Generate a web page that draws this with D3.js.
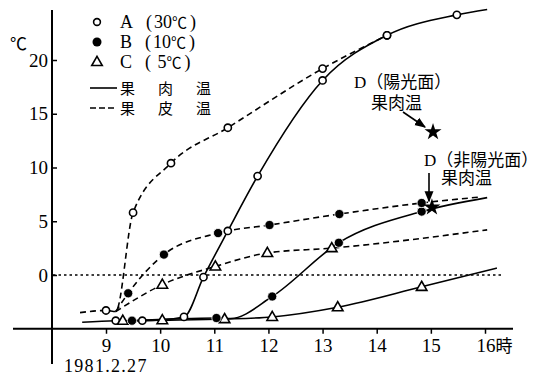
<!DOCTYPE html>
<html>
<head>
<meta charset="utf-8">
<script src="https://cdn.jsdelivr.net/npm/d3@7"></script>
<style>
  body { margin: 0; background: #fff; }
  text { fill: #000; }
</style>
</head>
<body>
<svg width="544" height="376"></svg>
<script>
// [hour, temp (℃), marker? 1/0]
var aFlesh = [[8.56,-4.4,0],[9.18,-4.25,1],[9.67,-4.25,1],[10.44,-3.9,1],[10.8,-0.2,1],[11.25,4.1,1],[11.8,9.2,1],[13.0,18.1,1],[14.19,22.3,1],[15.48,24.2,1],[16.04,24.7,0]];
var aPeel  = [[8.52,-3.5,0],[9.0,-3.3,1],[9.18,-3.4,0],[9.5,5.8,1],[10.2,10.4,1],[11.25,13.7,1],[13.0,19.2,1],[14.19,22.3,1]];
var bFlesh = [[9.48,-4.25,1],[11.04,-4.0,1],[11.3,-4.05,0],[12.07,-2.0,1],[13.3,3.0,1],[14.83,5.9,1],[16.04,7.2,0]];
var bPeel  = [[9.18,-3.4,0],[9.41,-1.7,1],[10.07,1.9,1],[11.07,3.9,1],[12.02,4.65,1],[13.31,5.67,1],[14.83,6.7,1],[15.9,7.25,0]];
var cFlesh = [[9.31,-4.25,1],[10.04,-4.2,1],[11.19,-4.1,1],[12.07,-3.9,1],[13.28,-3.0,1],[14.83,-1.1,1],[16.22,0.65,0]];
var cPeel  = [[9.18,-3.4,0],[10.04,-0.9,1],[11.02,0.8,1],[11.98,2.05,1],[13.17,2.5,1],[16.04,4.2,0]];
var dSun = [15.04, 13.3];
var dShade = [15.02, 6.3];

var hours = [9, 10, 11, 12, 13, 14, 15, 16];
var temps = [0, 5, 10, 15, 20];
var legendSeries = ["A", "B", "C"];
var legendTemps = ["30", "10", " 5"];

var serif = "'Liberation Serif', 'Noto Sans CJK JP', serif";
var cjk = "'Liberation Serif', 'Noto Sans CJK JP', sans-serif";
var jp = "'Noto Sans CJK JP', sans-serif";

var svg = d3.select("svg");

var x = d3.scaleLinear().domain([9, 16]).range([106, 485]);
var y = d3.scaleLinear().domain([0, 20]).range([275, 60]);

// axes
var xAxisY = y(-5);
svg.append("line").attr("x1", 13).attr("x2", 513)
   .attr("y1", xAxisY).attr("y2", xAxisY)
   .attr("stroke", "#000").attr("stroke-width", 2);
svg.append("line").attr("x1", 52).attr("x2", 52)
   .attr("y1", 10).attr("y2", 364)
   .attr("stroke", "#000").attr("stroke-width", 2);

var xAxis = svg.append("g")
   .attr("transform", "translate(0," + xAxisY + ")")
   .call(d3.axisBottom(x).tickValues(hours).tickSize(5).tickPadding(5).tickFormat(d3.format("d")));
xAxis.select(".domain").remove();
xAxis.selectAll("line").attr("stroke-width", 1.5);
xAxis.selectAll("text").attr("font-family", serif).attr("font-size", 19).attr("fill", "#000");
xAxis.selectAll(".tick").filter(function(d) { return d == 16; }).select("text")
   .attr("text-anchor", "start").attr("x", -9)
   .append("tspan").attr("font-family", jp).attr("font-size", 17).text("時");

var yAxis = svg.append("g")
   .attr("transform", "translate(52,0)")
   .call(d3.axisLeft(y).tickValues(temps).tickSize(-5).tickPadding(4));
yAxis.select(".domain").remove();
yAxis.selectAll("line").attr("stroke-width", 1.5);
yAxis.selectAll("text").attr("font-family", serif).attr("font-size", 19).attr("fill", "#000");

svg.append("text").attr("x", 10).attr("y", 50)
   .attr("font-family", jp).attr("font-size", 17).text("℃");
svg.append("text").attr("x", 64).attr("y", 372)
   .attr("font-family", serif).attr("font-size", 18).attr("letter-spacing", 1.3).text("1981.2.27");

// zero line
svg.append("line").attr("x1", 53).attr("x2", 503)
   .attr("y1", y(0)).attr("y2", y(0))
   .attr("stroke", "#000").attr("stroke-width", 1.6)
   .attr("stroke-dasharray", "2.5,3");

var line = d3.line()
   .x(function(d) { return x(d[0]); })
   .y(function(d) { return y(d[1]); })
   .curve(d3.curveMonotoneX);

function drawLine(data, dashed) {
  svg.append("path").datum(data)
     .attr("d", line)
     .attr("fill", "none")
     .attr("stroke", "#000")
     .attr("stroke-width", 1.6)
     .attr("stroke-dasharray", dashed ? "6,4" : null);
}

drawLine(aFlesh, false);
drawLine(bFlesh, false);
drawLine(cFlesh, false);
drawLine(aPeel, true);
drawLine(bPeel, true);
drawLine(cPeel, true);

var tri = d3.symbol().type(d3.symbolTriangle).size(48);

function drawMarkers(data, kind) {
  var pts = data.filter(function(d) { return d[2]; });
  var g = svg.append("g");
  if (kind == "A") {
    g.selectAll("circle").data(pts).enter().append("circle")
     .attr("cx", function(d) { return x(d[0]); })
     .attr("cy", function(d) { return y(d[1]); })
     .attr("r", 3.6).attr("fill", "#fff").attr("stroke", "#000").attr("stroke-width", 1.6);
  } else if (kind == "B") {
    g.selectAll("circle").data(pts).enter().append("circle")
     .attr("cx", function(d) { return x(d[0]); })
     .attr("cy", function(d) { return y(d[1]); })
     .attr("r", 4.6).attr("fill", "#000").attr("stroke", "#fff").attr("stroke-width", 0.8);
  } else {
    g.selectAll("path").data(pts).enter().append("path")
     .attr("d", tri)
     .attr("transform", function(d) { return "translate(" + x(d[0]) + "," + (y(d[1]) + 0.5) + ")"; })
     .attr("fill", "#fff").attr("stroke", "#000").attr("stroke-width", 1.6);
  }
}

drawMarkers(aFlesh, "A");
drawMarkers(aPeel, "A");
drawMarkers(cFlesh, "C");
drawMarkers(cPeel, "C");
drawMarkers(bFlesh, "B");
drawMarkers(bPeel, "B");

// D stars
var star = d3.symbol().type(d3.symbolStar).size(90);
[dSun, dShade].forEach(function(d) {
  svg.append("path").attr("d", star)
     .attr("transform", "translate(" + x(d[0]) + "," + y(d[1]) + ")")
     .attr("fill", "#000");
});

// arrows
svg.append("defs").append("marker")
   .attr("id", "ah").attr("viewBox", "0 0 10 10")
   .attr("refX", 9).attr("refY", 5)
   .attr("markerWidth", 7).attr("markerHeight", 7)
   .attr("orient", "auto")
   .append("path").attr("d", "M0,1L10,5L0,9Z").attr("fill", "#000");

svg.append("line").attr("x1", 403).attr("y1", 112).attr("x2", x(dSun[0]) - 8).attr("y2", y(dSun[1]) - 5)
   .attr("stroke", "#000").attr("stroke-width", 1.6).attr("marker-end", "url(#ah)");
svg.append("line").attr("x1", 429).attr("y1", 173).attr("x2", 429).attr("y2", y(dShade[1]) - 6)
   .attr("stroke", "#000").attr("stroke-width", 1.6).attr("marker-end", "url(#ah)");

function note(tx, ty, s) {
  svg.append("text").attr("x", tx).attr("y", ty)
     .attr("font-family", cjk).attr("font-size", 17).text(s);
}
note(354, 88, "D（陽光面）");
note(371, 109, "果肉温");
note(424, 166, "D（非陽光面）");
note(441, 184, "果肉温");

// legend
var lg = svg.append("g");
legendSeries.forEach(function(s, i) {
  var ly = 22 + i * 20;
  if (s == "A") {
    lg.append("circle").attr("cx", 97).attr("cy", ly).attr("r", 3.4)
      .attr("fill", "#fff").attr("stroke", "#000").attr("stroke-width", 1.6);
  } else if (s == "B") {
    lg.append("circle").attr("cx", 97).attr("cy", ly).attr("r", 4.5).attr("fill", "#000");
  } else {
    lg.append("path").attr("d", tri).attr("transform", "translate(97," + (ly + 0.5) + ")")
      .attr("fill", "#fff").attr("stroke", "#000").attr("stroke-width", 1.6);
  }
  var t = lg.append("text").attr("x", 120).attr("y", ly + 6)
    .attr("font-family", serif).attr("font-size", 18).attr("xml:space", "preserve");
  t.append("tspan").text(s);
  t.append("tspan").attr("dx", 13).text("(");
  t.append("tspan").attr("dx", 2).text(legendTemps[i]);
  t.append("tspan").attr("font-family", jp).attr("font-size", 15).text("℃");
  t.append("tspan").attr("dx", 3).text(")");
});

[["果　肉　温", null, 88], ["果　皮　温", "6,3", 108]].forEach(function(r) {
  lg.append("line").attr("x1", 90).attr("x2", 117).attr("y1", r[2]).attr("y2", r[2])
    .attr("stroke", "#000").attr("stroke-width", 1.6).attr("stroke-dasharray", r[1]);
  lg.append("text").attr("x", 120).attr("y", r[2] + 6)
    .attr("font-family", jp).attr("font-size", 15).attr("letter-spacing", 4).text(r[0]);
});
</script>
</body>
</html>
